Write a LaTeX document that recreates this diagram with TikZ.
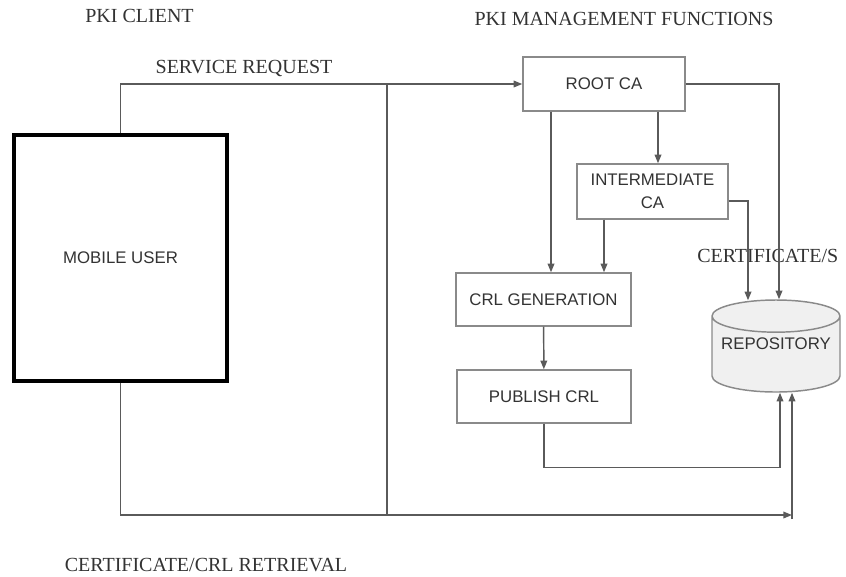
\documentclass[tikz,border=0pt]{standalone}
\usepackage{fontspec}
\setmainfont{Liberation Serif}
\setsansfont{Liberation Sans}
\usetikzlibrary{arrows.meta,shapes.geometric,calc}
\definecolor{linegray}{HTML}{5A5A5A}
\definecolor{boxgray}{HTML}{8A8A8A}
\definecolor{textgray}{HTML}{333333}

\begin{document}
\begin{tikzpicture}[x=0.75pt, y=-0.75pt]
        \tikzset{
            block/.style={
                draw=boxgray,
                fill=white,
                line width=1.1pt,
                text=textgray,
                align=center,
                inner sep=2pt,
                font=\sffamily\fontsize{12.6}{17}\selectfont
            },
            userbox/.style={block, draw=black, line width=3.4pt},
            store/.style={block, cylinder, shape border rotate=90, aspect=0.28, fill=gray!12},
            link/.style={draw=linegray, line width=1.1pt},
            arrow/.style={link, -{Triangle[length=6.5pt, width=5pt]}},
            caption/.style={text=textgray, font=\fontsize{15}{18}\selectfont}
        }

        \useasboundingbox (0,0) rectangle (846,576);

        \node[userbox, minimum width=159.75pt, minimum height=184.5pt] (user) at (120.5,258) {MOBILE USER};
        \node[block, minimum width=121.5pt, minimum height=40.5pt] (root) at (604,84) {ROOT CA};
        \node[block, minimum width=113.25pt, minimum height=41.25pt] (inter) at (652.5,191.5) {INTERMEDIATE\\CA};
        \node[block, minimum width=131.25pt, minimum height=39.75pt] (crlgen) at (543.5,299.5) {CRL GENERATION};
        \node[block, minimum width=130.5pt, minimum height=39.75pt] (publish) at (544,396.5) {PUBLISH CRL};
        \node[store, minimum width=96pt, minimum height=69pt, anchor=shape center] (repo) at (776,346) {\raisebox{19.5pt}{REPOSITORY}};

        \node[caption] (client) at (139.5,16) {PKI CLIENT};
        \node[caption] (mgmt) at (624,19) {PKI MANAGEMENT FUNCTIONS};
        \node[caption] (request) at (244,68) {SERVICE REQUEST};
        \node[caption, anchor=west, inner sep=0pt] (certs) at (697,256) {CERTIFICATE/S};
        \node[caption] (retrieval) at (206,565) {CERTIFICATE/CRL RETRIEVAL};

        \draw[link] (387,83) -- (387,515);

        \coordinate (retr) at (792,515);
        \coordinate (r1) at ($(root.south)+(-53,0)$);
        \coordinate (r2) at ($(root.south)+(54,0)$);
        \coordinate (i1) at ($(inter.south)+(-48.5,0)$);
        \coordinate (rtop) at ($(repo.north)+(3,0)$);
        \coordinate (itop) at ($(repo.north)+(-28,1)$);
        \coordinate (pbot) at ($(repo.south)+(4,0)$);

        \draw[arrow] (user.north) |- (root.west);
        \draw[arrow] (user.south) |- (retr);
        \draw[arrow] ([yshift=-3pt]retr) -- (retr |- repo.south);
        \draw[arrow] (r2) -- (r2 |- inter.north);
        \draw[arrow] (r1) -- (r1 |- crlgen.north);
        \draw[arrow] (i1) -- (i1 |- crlgen.north);
        \draw[arrow] (root.east) -| (rtop);
        \draw[arrow] ($(inter.east)+(0,9.5)$) -| (itop);
        \draw[arrow] (crlgen) -- (publish);
        \draw[arrow] (publish.south) -- ++(0,44) -| (pbot);
\end{tikzpicture}
\end{document}
